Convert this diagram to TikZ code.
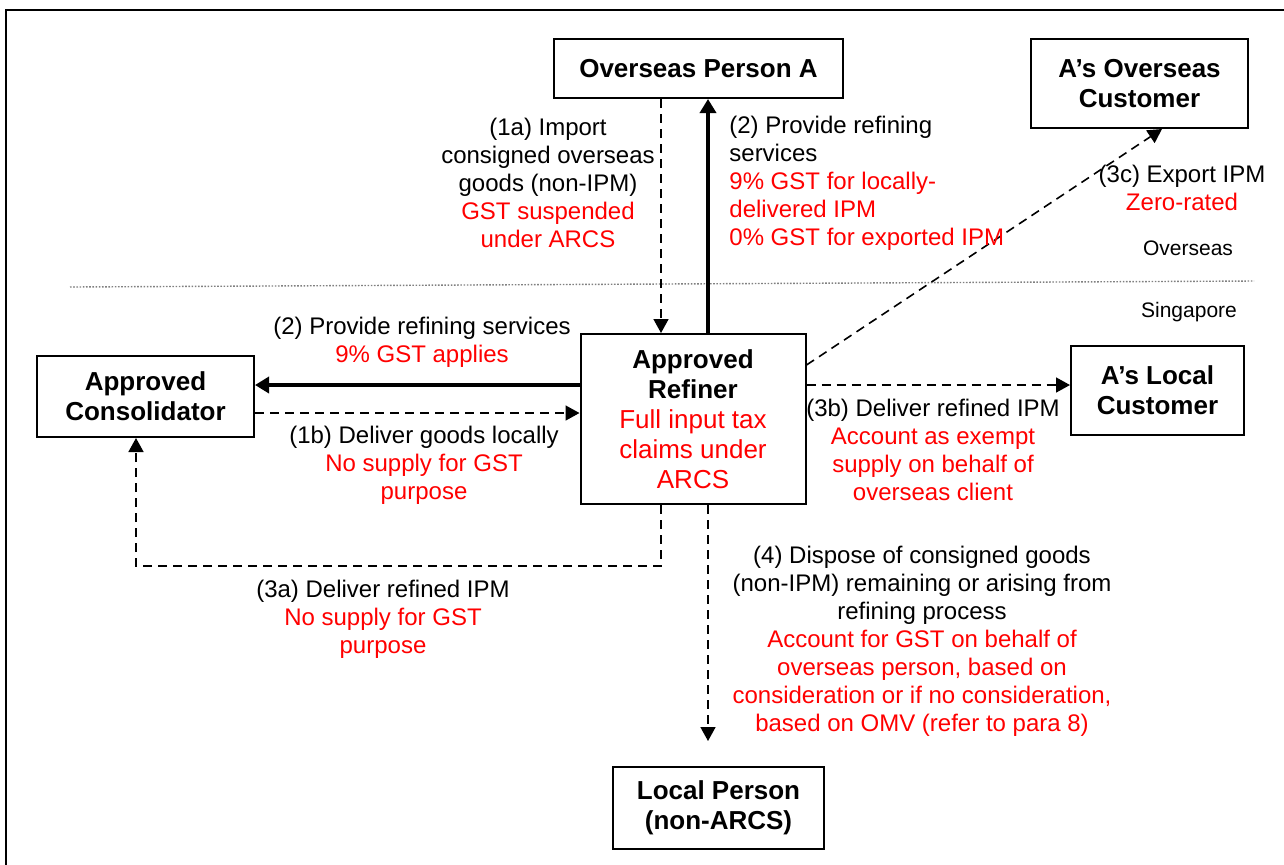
\documentclass[tikz,border=0pt]{standalone}
\usepackage{fontspec}
\setmainfont{Liberation Sans}
\usetikzlibrary{arrows.meta}
\definecolor{gstred}{RGB}{255,0,0}
\newcommand{\redtxt}[1]{\textcolor{gstred}{#1}}

\begin{document}
\begin{tikzpicture}[x=0.5pt,y=-0.5pt,
  box/.style={draw,line width=1pt,align=center,inner sep=2pt,font=\fontsize{13}{15}\selectfont\bfseries},
  lbl/.style={align=center,inner sep=1pt,font=\fontsize{12}{14}\selectfont},
  zone/.style={inner sep=1pt,font=\fontsize{10.5}{12}\selectfont},
  dflow/.style={line width=0.8pt,dash pattern=on 4.5pt off 3pt,-{Triangle[width=7.5pt,length=7pt]}},
  sflow/.style={line width=2pt,-{Triangle[width=8pt,length=7pt]}}]
\useasboundingbox (0,0) rectangle (1284,864);
   \draw[line width=1pt] (1300,10) -- (6,10) -- (6,880);
% overseas / singapore split
   \draw[gray,line width=0.7pt,dash pattern=on 0.8pt off 0.8pt] (70,287) -- (1254,281);
\node[zone] (zover) at (1188,248) {Overseas};
\node[zone] (zsing) at (1189,312) {Singapore};

% parties
\node[box,minimum width=144.5pt,minimum height=29.5pt] (ospa) at (698.5,68.5) {Overseas Person A};
\node[box,minimum width=108.5pt,minimum height=44.5pt] (oscust) at (1139.5,83.5) {A’s Overseas\\Customer};
\node[box,minimum width=108.5pt,minimum height=40.5pt] (consol) at (145.5,396.5) {Approved\\Consolidator};
\node[box,minimum width=112.5pt,minimum height=85pt] (refiner) at (693,419)
   {Approved\\Refiner\\\mdseries\redtxt{Full input tax}\\\mdseries\redtxt{claims under}\\\mdseries\redtxt{ARCS}};
\node[box,minimum width=86.5pt,minimum height=44.5pt] (loccust) at (1157.5,390.5) {A’s Local\\Customer};
\node[box,minimum width=105.5pt,minimum height=41pt] (locperson) at (718.5,808) {Local Person\\(non-ARCS)};

% rows and columns of the connectors
\coordinate (colA) at (661,0);
\coordinate (colB) at (708,0);
\coordinate (colC) at (136,0);
\coordinate (colD) at (1162,0);
\coordinate (rowA) at (0,385);
\coordinate (rowB) at (0,413);
\coordinate (rowC) at (0,365);
\coordinate (rowD) at (0,566);

   \draw[dflow] (ospa.south -| colA) -- (refiner.north -| colA);
   \draw[sflow] (refiner.north -| colB) -- (ospa.south -| colB);
   \draw[dflow] (refiner.east |- rowC) -- (oscust.south -| colD);
   \draw[sflow] (refiner.west |- rowA) -- (consol.east |- rowA);
   \draw[dflow] (consol.east |- rowB) -- (refiner.west |- rowB);
   \draw[dflow] (refiner.east |- rowA) -- (loccust.west |- rowA);
   \draw[dflow] (refiner.south -| colA) -- (colA |- rowD) -| (consol.south -| colC);
   \draw[dflow,shorten >=12.5pt] (refiner.south -| colB) -- (locperson.north -| colB);

% flow labels
\node[lbl] (t1a) at (548,183) {(1a) Import\\consigned overseas\\goods (non-IPM)\\\redtxt{GST suspended}\\\redtxt{under ARCS}};
\node[lbl,align=left,anchor=west] (t2a) at (727,183) {(2) Provide refining\\services\\\redtxt{9\% GST for locally-}\\\redtxt{delivered IPM}\\\redtxt{0\% GST for exported IPM}};
\node[lbl] (t3c) at (1182,188) {(3c) Export IPM\\\redtxt{Zero-rated}};
\node[lbl] (t2b) at (422,342) {(2) Provide refining services\\\redtxt{9\% GST applies}};
\node[lbl] (t1b) at (424,465) {(1b) Deliver goods locally\\\redtxt{No supply for GST}\\\redtxt{purpose}};
\node[lbl] (t3b) at (933,450) {(3b) Deliver refined IPM\\\redtxt{Account as exempt}\\\redtxt{supply on behalf of}\\\redtxt{overseas client}};
\node[lbl] (t3a) at (383,619) {(3a) Deliver refined IPM\\\redtxt{No supply for GST}\\\redtxt{purpose}};
\node[lbl] (t4) at (922,641) {(4) Dispose of consigned goods\\(non-IPM) remaining or arising from\\refining process\\\redtxt{Account for GST on behalf of}\\\redtxt{overseas person, based on}\\\redtxt{consideration or if no consideration,}\\\redtxt{based on OMV (refer to para 8)}};
\end{tikzpicture}
\end{document}
